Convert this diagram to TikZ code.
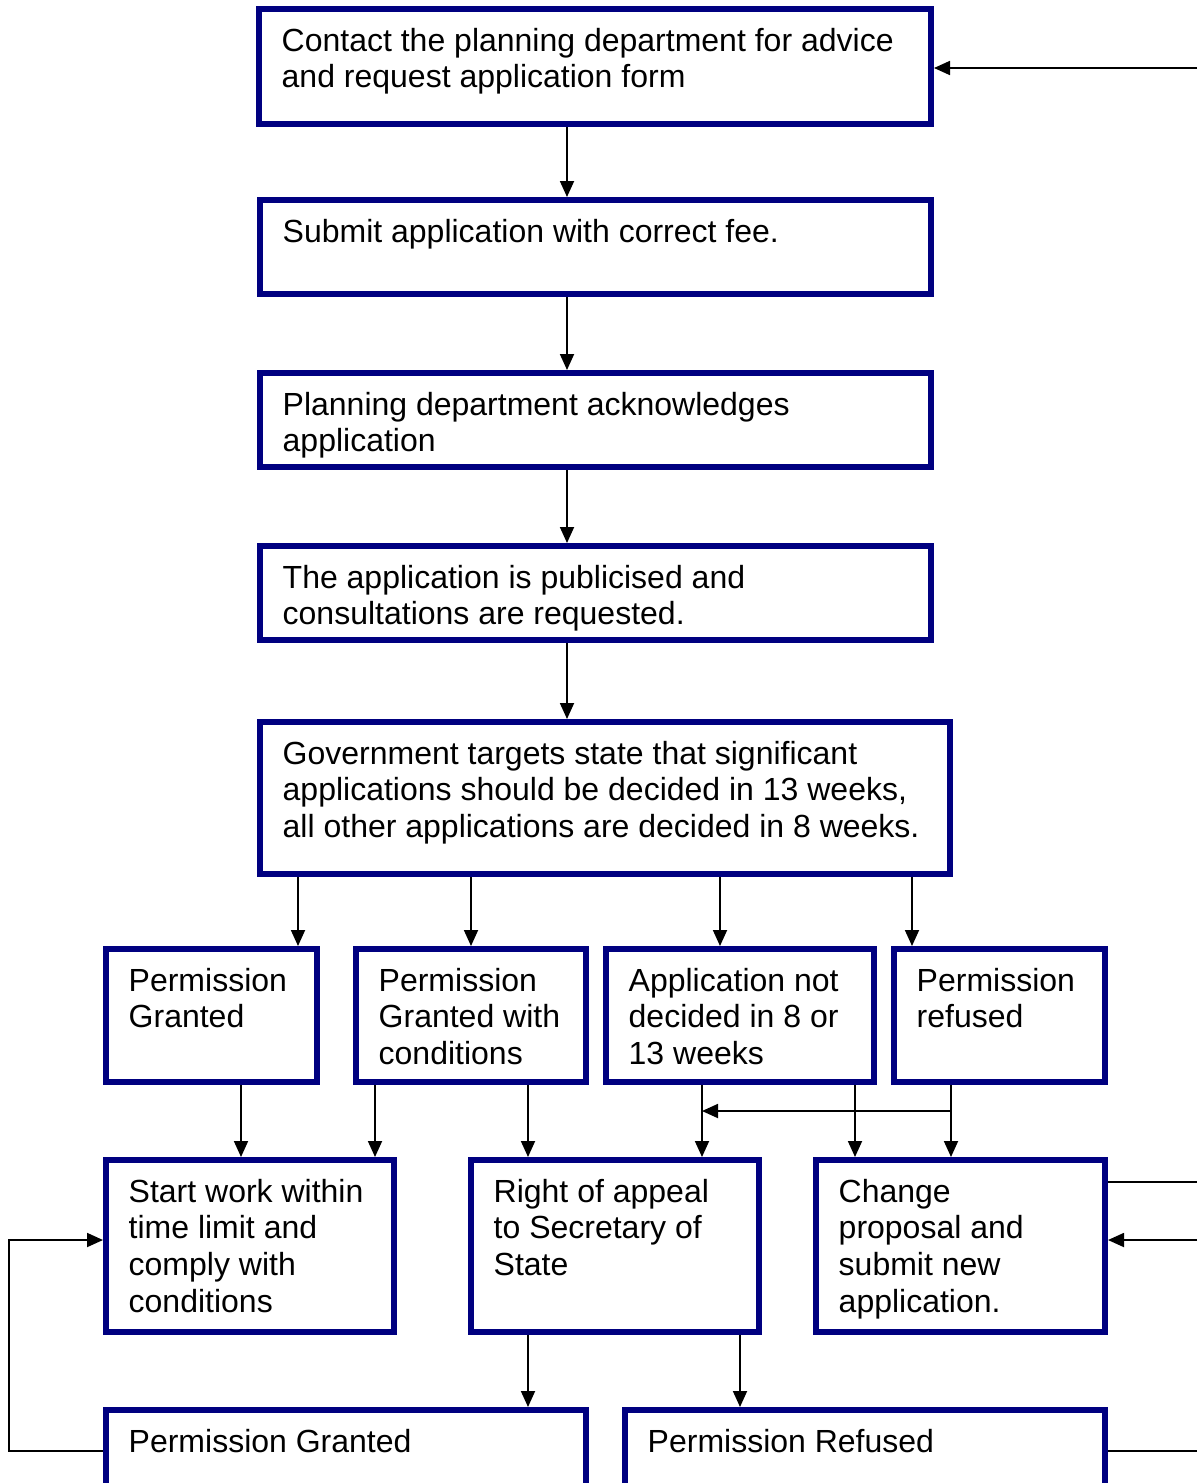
\documentclass[tikz,border=0pt]{standalone}
\usepackage{fontspec}
\setmainfont{Liberation Sans}
\usetikzlibrary{arrows.meta}
\definecolor{navyb}{RGB}{0,0,128}
\tikzset{
  flowframe/.style={draw=navyb, line width=6pt, fill=white, inner sep=0pt, rectangle},
  flowtext/.style={anchor=base west, inner sep=0pt, font=\fontsize{32}{36.8}\selectfont},
  conn/.style={draw=black, line width=1.8pt},
  arr/.style={conn, -{Triangle[length=16pt,width=14pt]}}
}
\newcommand\flowbox[6]{%
  \node[flowframe, minimum width={#4-#2-6}, minimum height={#5-#3-6}] (#1) at ({(#2+#4)/2},{(#3+#5)/2}) {};
  \node[flowtext] (#1-t) at ({#2+25.5},{#3+45}) {\parbox[t]{700pt}{\raggedright #6}};
}
\begin{document}
\begin{tikzpicture}[x=1pt,y=-1pt]
\clip (0,0) rectangle (1197,1483);
\fill[white] (0,0) rectangle (1197,1483);
% boxes
\flowbox{b1}{256}{6}{934}{127}{Contact the planning department for advice\\and request application form}
\flowbox{b2}{257}{197}{934}{297}{Submit application with correct fee.}
\flowbox{b3}{257}{370}{934}{470}{Planning department acknowledges\\application}
\flowbox{b4}{257}{543}{934}{643}{The application is publicised and\\consultations are requested.}
\flowbox{b5}{257}{719}{953}{877}{Government targets state that significant\\applications should be decided in 13 weeks,\\all other applications are decided in 8 weeks.}
\flowbox{b6}{103}{946}{320}{1085}{Permission\\Granted}
\flowbox{b7}{353}{946}{589}{1085}{Permission\\Granted with\\conditions}
\flowbox{b8}{603}{946}{877}{1085}{Application not\\decided in 8 or\\13 weeks}
\flowbox{b9}{891}{946}{1108}{1085}{Permission\\refused}
\flowbox{b10}{103}{1157}{397}{1335}{Start work within\\time limit and\\comply with\\conditions}
\flowbox{b11}{468}{1157}{762}{1335}{Right of appeal\\to Secretary of\\State}
\flowbox{b12}{813}{1157}{1108}{1335}{Change\\proposal and\\submit new\\application.}
\flowbox{b13}{103}{1407}{589}{1500}{Permission Granted}
\flowbox{b14}{622}{1407}{1108}{1500}{Permission Refused}
% coordinates
\coordinate (e1) at (1197,68);
\coordinate (e2) at (1197,1182);
\coordinate (e3) at (1197,1240);
\coordinate (e4) at (1197,1451);
\coordinate (j9) at (951,1111);
\coordinate (j8) at (702,1111);
\coordinate (l1) at (9,1451);
\coordinate (l2) at (9,1240);
% vertical chain
\draw[arr] (567,0 |- b1.south) -- (567,0 |- b2.north);
\draw[arr] (567,0 |- b2.south) -- (567,0 |- b3.north);
\draw[arr] (567,0 |- b3.south) -- (567,0 |- b4.north);
\draw[arr] (567,0 |- b4.south) -- (567,0 |- b5.north);
% from b5
\draw[arr] (298,0 |- b5.south) -- (298,0 |- b6.north);
\draw[arr] (471,0 |- b5.south) -- (471,0 |- b7.north);
\draw[arr] (720,0 |- b5.south) -- (720,0 |- b8.north);
\draw[arr] (912,0 |- b5.south) -- (912,0 |- b9.north);
% row 2 to row 3
\draw[arr] (241,0 |- b6.south) -- (241,0 |- b10.north);
\draw[arr] (375,0 |- b7.south) -- (375,0 |- b10.north);
\draw[arr] (528,0 |- b7.south) -- (528,0 |- b11.north);
\draw[arr] (702,0 |- b8.south) -- (702,0 |- b11.north);
\draw[arr] (855,0 |- b8.south) -- (855,0 |- b12.north);
\draw[arr] (951,0 |- b9.south) -- (951,0 |- b12.north);
\draw[arr] (j9) -- (j8);
% row 3 to row 4
\draw[arr] (528,0 |- b11.south) -- (528,0 |- b13.north);
\draw[arr] (740,0 |- b11.south) -- (740,0 |- b14.north);
% loops
\draw[arr] (b13.west |- l1) -- (l1) -- (l2) -- (b10.west |- l2);
\draw[arr] (e1) -- (b1.east |- e1);
\draw[conn] (b12.east |- e2) -- (e2);
\draw[arr] (e3) -- (b12.east |- e3);
\draw[conn] (b14.east |- e4) -- (e4);
\end{tikzpicture}
\end{document}
